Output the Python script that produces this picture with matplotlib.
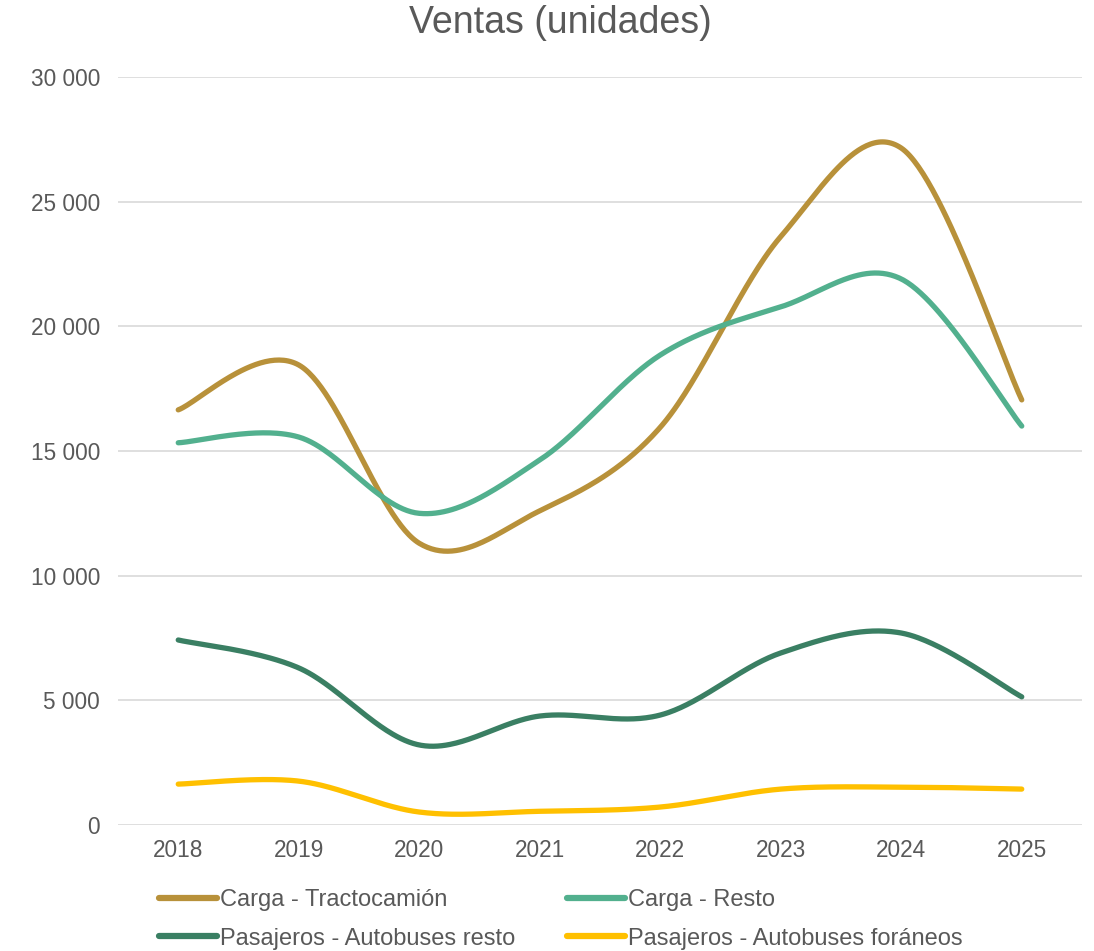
import matplotlib.pyplot as plt
import numpy as np

plt.rcParams['font.family'] = ['Liberation Sans', 'DejaVu Sans']

years = ['2018', '2019', '2020', '2021', '2022', '2023', '2024', '2025']
tracto = [16650, 18450, 11300, 12600, 15950, 23600, 27150, 17050]
resto = [15330, 15560, 12500, 14640, 18850, 20780, 21900, 16000]
bus_resto = [7420, 6300, 3210, 4370, 4410, 6900, 7700, 5140]
bus_foraneos = [1640, 1760, 520, 550, 720, 1440, 1520, 1440]

names = ['Carga - Tractocamión', 'Carga - Resto',
         'Pasajeros - Autobuses resto', 'Pasajeros - Autobuses foráneos']
colors = ['#B8913A', '#52B08E', '#3A7F63', '#FFC000']
gray = '#595959'


def smooth(y, n=60):
    # bezier like excel's smoothed lines
    x = np.arange(len(y), dtype=float)
    y = np.asarray(y, dtype=float)
    xs, ys = [], []
    for i in range(len(y) - 1):
        i0 = max(i - 1, 0)
        i3 = min(i + 2, len(y) - 1)
        p0 = np.array([x[i], y[i]])
        p3 = np.array([x[i + 1], y[i + 1]])
        c1 = p0 + (p3 - np.array([x[i0], y[i0]])) / 6
        c2 = p3 - (np.array([x[i3], y[i3]]) - p0) / 6
        t = np.linspace(0, 1, n)[:, None]
        pts = ((1 - t) ** 3) * p0 + 3 * ((1 - t) ** 2) * t * c1 + 3 * (1 - t) * t ** 2 * c2 + t ** 3 * p3
        xs.extend(pts[:, 0])
        ys.extend(pts[:, 1])
    return xs, ys


fig = plt.figure(figsize=(10.94, 9.51), dpi=100)
ax = fig.add_axes([118 / 1094, 126 / 951, 964 / 1094, 748 / 951])

lines = []
for vals, name, c in zip([tracto, resto, bus_resto, bus_foraneos], names, colors):
    sx, sy = smooth(vals)
    ln, = ax.plot(sx, sy, color=c, lw=3.8, solid_capstyle='round', label=name)
    lines.append(ln)

ax.set_xlim(-0.5, len(years) - 0.5)
ax.set_ylim(0, 30000)
ax.set_xticks(range(len(years)))
ax.set_xticklabels(years)
yt = np.arange(0, 30001, 5000)
ax.set_yticks(yt)
ax.set_yticklabels(['{:,}'.format(v).replace(',', ' ') for v in yt])
ax.tick_params(length=0, labelsize=16.3, colors=gray)
ax.tick_params(axis='y', pad=13)
ax.tick_params(axis='x', pad=10)
for s in ax.spines.values():
    s.set_visible(False)
ax.grid(axis='y', color='#D9D9D9', lw=1.2)
ax.set_axisbelow(True)

fig.text(560 / 1094, 1 - 23 / 951, 'Ventas (unidades)', ha='center', va='center',
         fontsize=27, color=gray)

order = [0, 2, 1, 3]
leg = fig.legend([lines[i] for i in order], [names[i] for i in order], ncol=2,
                 loc='upper left', bbox_to_anchor=(150 / 1094, 1 - 880 / 951),
                 frameon=False, fontsize=17, handlelength=2.45, handletextpad=0.12,
                 columnspacing=2.2, labelspacing=0.68, borderaxespad=0)
for t in leg.get_texts():
    t.set_color(gray)
for h in leg.legend_handles:
    h.set_linewidth(4.5)

fig.savefig('out.png', dpi=100)
